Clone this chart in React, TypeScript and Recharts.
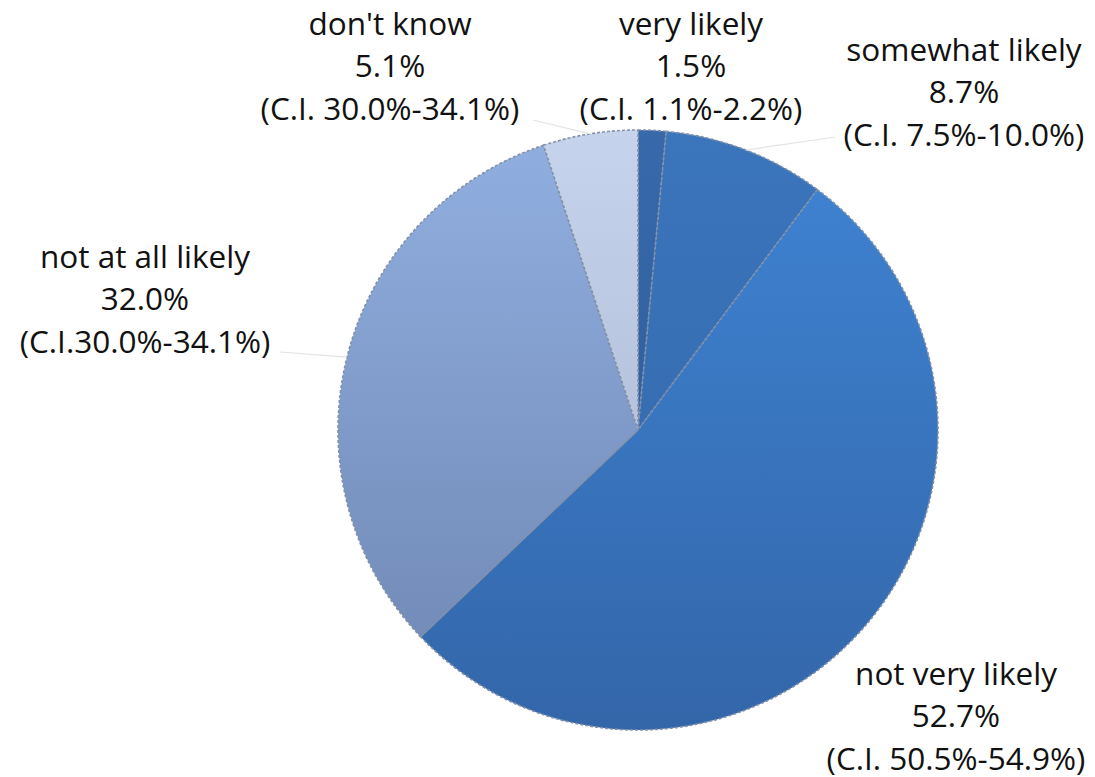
import React from "react";
import { PieChart, Pie, Cell } from "recharts";

const categories = ["very likely", "somewhat likely", "not very likely", "not at all likely", "don't know"];
const shares = [1.5, 8.7, 52.7, 32.0, 5.1];
const ciLabels = [
  "(C.I. 1.1%-2.2%)",
  "(C.I. 7.5%-10.0%)",
  "(C.I. 50.5%-54.9%)",
  "(C.I.30.0%-34.1%)",
  "(C.I. 30.0%-34.1%)",
];

// top / bottom shade of each slice
const topColors = ["#3769ab", "#3b75bc", "#3f84d4", "#90afe0", "#c6d3ed"];
const bottomColors = ["#2b5792", "#3266a8", "#3366a9", "#6e85b1", "#a6b2ca"];

const rows = categories.map((name, i) => ({ name, value: shares[i], ci: ciLabels[i] }));

const W = 1095;
const H = 777;
const CX = 638;
const CY = 430;
const R = 300;

// where each label block sits, and where its leader line starts (null = no line)
const labelLayout: Record<string, { x: number; y: number; line: [number, number] | null }> = {
  "very likely": { x: 691, y: 22, line: null },
  "somewhat likely": { x: 964, y: 48, line: [835, 137] },
  "not very likely": { x: 956, y: 672, line: null },
  "not at all likely": { x: 145, y: 255, line: [280, 352] },
  "don't know": { x: 390, y: 22, line: [533, 120] },
};

const RAD = Math.PI / 180;
const LINE_GAP = 42.5;

function renderLabel(props: any) {
  const { name, value, midAngle, cx, cy, outerRadius, payload } = props;
  const spot = labelLayout[name];
  if (!spot) return null;
  const ex = cx + outerRadius * Math.cos(-midAngle * RAD);
  const ey = cy + outerRadius * Math.sin(-midAngle * RAD);
  const lines = [name, `${Number(value).toFixed(1)}%`, payload.ci];
  return (
    <g>
      {spot.line && (
        <line x1={spot.line[0]} y1={spot.line[1]} x2={ex} y2={ey} stroke="#e3e3e3" strokeWidth={1.2} />
      )}
      {lines.map((t, k) => (
        <text
          key={k}
          x={spot.x}
          y={spot.y + k * LINE_GAP}
          textAnchor="middle"
          dominantBaseline="central"
          fill="#111"
          fontSize={31.5}
          fontFamily="'Open Sans', sans-serif"
        >
          {t}
        </text>
      ))}
    </g>
  );
}

export default function App() {
  return (
    <div style={{ position: "absolute", left: 0, top: 0, width: W, height: H, background: "#fff" }}>
      <PieChart width={W} height={H} margin={{ top: 0, right: 0, bottom: 0, left: 0 }}>
        <defs>
          {categories.map((_, i) => (
            <linearGradient
              key={i}
              id={`slice${i}`}
              gradientUnits="userSpaceOnUse"
              x1={0}
              y1={CY - R}
              x2={0}
              y2={CY + R}
            >
              <stop offset="0%" stopColor={topColors[i]} />
              <stop offset="100%" stopColor={bottomColors[i]} />
            </linearGradient>
          ))}
        </defs>
        <Pie
          data={rows}
          dataKey="value"
          nameKey="name"
          cx={CX}
          cy={CY}
          outerRadius={R}
          startAngle={90}
          endAngle={-270}
          stroke="#8391a8"
          strokeWidth={1.6}
          strokeDasharray="3 2"
          label={renderLabel}
          labelLine={false}
          isAnimationActive={false}
        >
          {rows.map((_, i) => (
            <Cell key={i} fill={`url(#slice${i})`} />
          ))}
        </Pie>
      </PieChart>
    </div>
  );
}
